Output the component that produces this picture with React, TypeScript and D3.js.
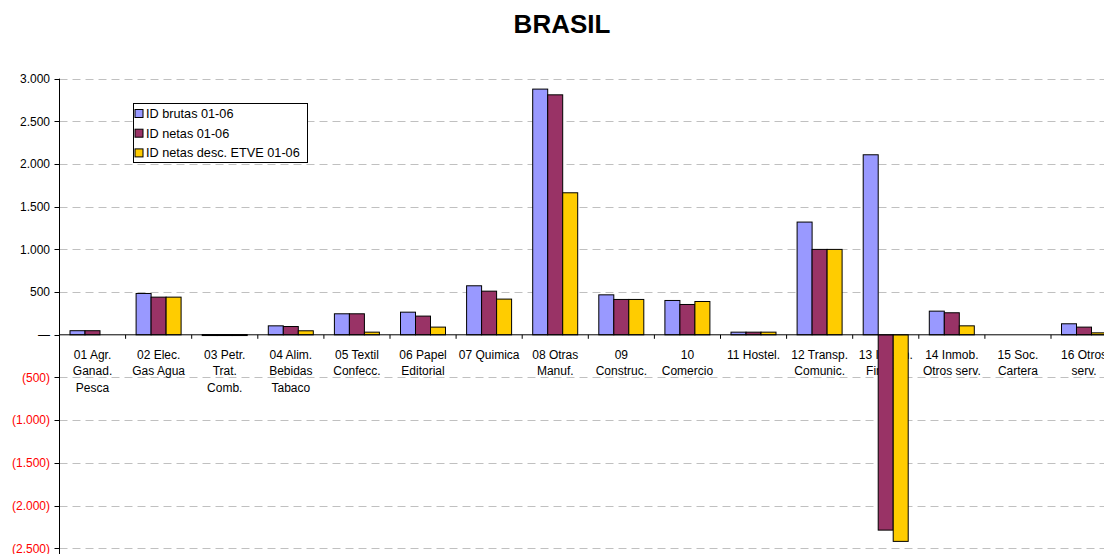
import * as d3 from 'd3';

const categories = [
  ['01 Agr.', 'Ganad.', 'Pesca'],
  ['02 Elec.', 'Gas Agua'],
  ['03 Petr.', 'Trat.', 'Comb.'],
  ['04 Alim.', 'Bebidas', 'Tabaco'],
  ['05 Textil', 'Confecc.'],
  ['06 Papel', 'Editorial'],
  ['07 Quimica'],
  ['08 Otras', 'Manuf.'],
  ['09', 'Construc.'],
  ['10', 'Comercio'],
  ['11 Hostel.'],
  ['12 Transp.', 'Comunic.'],
  ['13 Interm.', 'Financ.'],
  ['14 Inmob.', 'Otros serv.'],
  ['15 Soc.', 'Cartera'],
  ['16 Otros', 'serv.'],
];

const seriesNames = ['ID brutas 01-06', 'ID netas 01-06', 'ID netas desc. ETVE 01-06'];
const brutas = [48, 484, 3, 105, 246, 265, 574, 2877, 468, 402, 31, 1320, 2108, 277, 0, 129];
const netas = [48, 441, 3, 97, 246, 219, 511, 2810, 414, 355, 31, 1000, -2287, 258, 0, 90];
const netasEtve = [0, 441, 3, 47, 31, 90, 418, 1663, 414, 390, 31, 1000, -2419, 105, 0, 23];
const seriesColors = ['#9999FF', '#993366', '#FFCC00'];

const yTicks = [3000, 2500, 2000, 1500, 1000, 500, 0, -500, -1000, -1500, -2000, -2500];

const fmtNum = (v: number) => {
  if (v === 0) return '—';
  const s = d3.format(',')(Math.abs(v)).replace(/,/g, '.');
  return v < 0 ? `(${s})` : s;
};

export default function App() {
  const width = 1104;
  const height = 554;
  const left = 59.5;
  const catW = 66.1;
  const font = 'Liberation Sans, Arial, sans-serif';

  const x0 = d3
    .scaleBand<number>()
    .domain(d3.range(categories.length))
    .range([left, left + catW * categories.length]);
  const x1 = d3
    .scaleBand<number>()
    .domain([0, 1, 2])
    .range([10.5, catW - 10.6]);
  const y = d3.scaleLinear().domain([-2500, 3000]).range([548.3, 78.6]);

  const series = [brutas, netas, netasEtve];
  const zeroY = y(0);

  return (
    <svg
      width={width}
      height={height}
      style={{ position: 'absolute', left: 0, top: 0, background: '#fff', overflow: 'hidden' }}
      fontFamily={font}
    >
      <rect width={width} height={height} fill="#fff" />
      <text x={562} y={33} textAnchor="middle" fontSize={26} fontWeight="bold">
        BRASIL
      </text>

      {/* gridlines */}
      {yTicks
        .filter((t) => t !== 0)
        .map((t) => (
          <line
            key={`g${t}`}
            x1={left}
            x2={width + 20}
            y1={Math.round(y(t)) + 0.5}
            y2={Math.round(y(t)) + 0.5}
            stroke="#C0C0C0"
            strokeDasharray="8,5"
          />
        ))}

      {/* y tick labels and ticks */}
      {yTicks.map((t) => (
        <g key={`t${t}`}>
          <line x1={left - 5} x2={left} y1={Math.round(y(t)) + 0.5} y2={Math.round(y(t)) + 0.5} stroke="#000" />
          <text
            x={50}
            y={y(t)}
            dy="0.35em"
            textAnchor="end"
            fontSize={12}
            fill={t < 0 ? '#FF0000' : '#000'}
          >
            {fmtNum(t)}
          </text>
        </g>
      ))}

      {/* category labels (drawn under bars) */}
      {categories.map((lines, i) => (
        <text
          key={`c${i}`}
          x={(x0(i) ?? 0) + catW / 2}
          textAnchor="middle"
          fontSize={12}
          fill="#000"
        >
          {lines.map((l, j) => (
            <tspan key={j} x={(x0(i) ?? 0) + catW / 2} y={358.5 + j * 16.8}>
              {l}
            </tspan>
          ))}
        </text>
      ))}

      {/* bars */}
      {series.map((vals, s) =>
        vals.map((v, i) => {
          if (v === 0) return null;
          const bx = (x0(i) ?? 0) + (x1(s) ?? 0);
          const top = Math.min(y(v), zeroY);
          const h = Math.abs(y(v) - zeroY);
          return (
            <rect
              key={`b${s}-${i}`}
              x={bx}
              y={top}
              width={x1.bandwidth()}
              height={Math.max(h, 1)}
              fill={seriesColors[s]}
              stroke="#000"
              strokeWidth={1}
            />
          );
        })
      )}

      {/* axes */}
      <line x1={left} x2={left} y1={y(3000)} y2={height + 10} stroke="#000" />
      <line x1={left} x2={width + 20} y1={zeroY} y2={zeroY} stroke="#000" />
      {d3.range(categories.length + 1).map((i) => (
        <line
          key={`xt${i}`}
          x1={left + i * catW}
          x2={left + i * catW}
          y1={zeroY}
          y2={zeroY + 4}
          stroke="#000"
        />
      ))}

      {/* legend */}
      <g transform="translate(133.5,103.5)">
        <rect width={174} height={59} fill="#fff" stroke="#000" />
        {seriesNames.map((n, i) => (
          <g key={n} transform={`translate(0,${10 + i * 19.7})`}>
            <rect x={1.5} y={-4} width={8} height={8} fill={seriesColors[i]} stroke="#000" />
            <text x={12.5} y={0} dy="0.35em" fontSize={12.7}>
              {n}
            </text>
          </g>
        ))}
      </g>
    </svg>
  );
}
